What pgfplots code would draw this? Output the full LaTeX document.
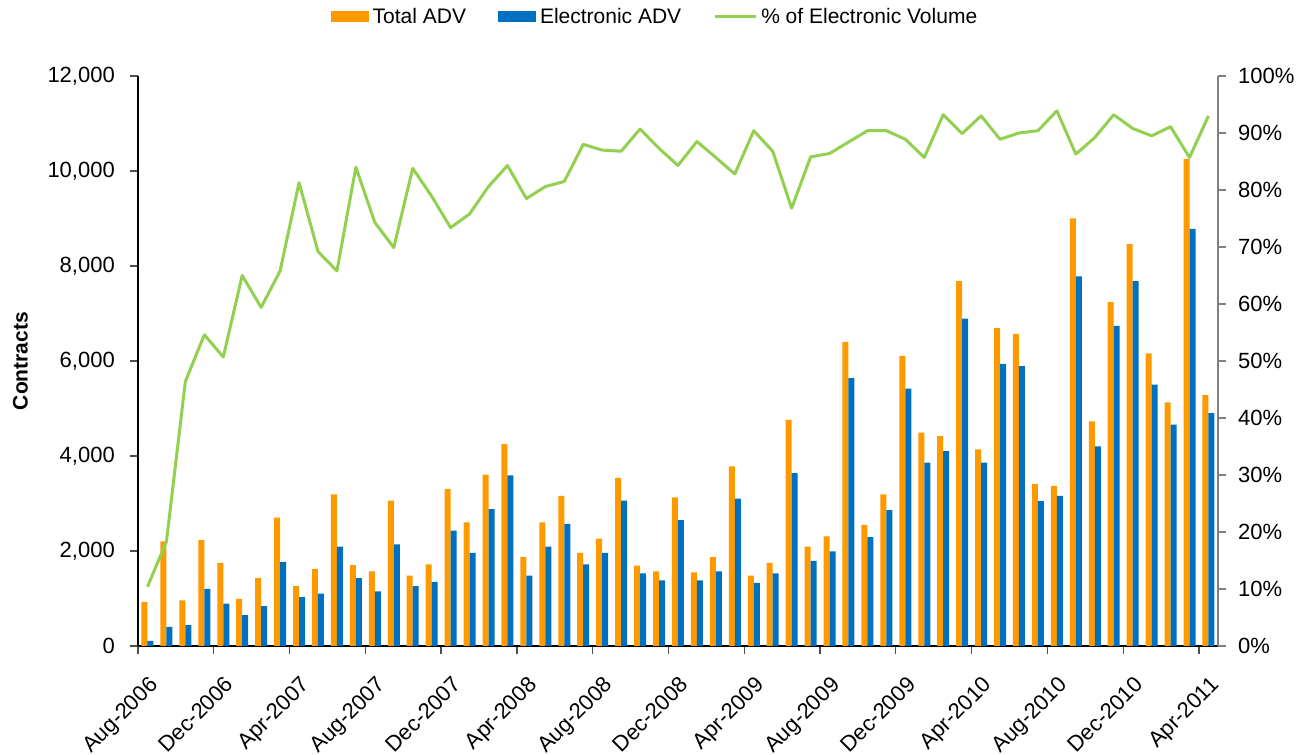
\documentclass[border=0pt]{standalone}
\usepackage{fontspec}
\setmainfont{Liberation Sans}
\usepackage{pgfplots}
\usepackage{pgfplotstable}
\pgfplotsset{compat=1.18}
\definecolor{orangeC}{RGB}{255,153,0}
\definecolor{blueC}{RGB}{0,112,192}
\definecolor{greenC}{RGB}{146,208,80}
\definecolor{axgray}{RGB}{128,128,128}
\pgfplotstableread{
i total elec pct
0 930 110 10.4
1 2200 400 18.3
2 960 440 46.4
3 2230 1200 54.6
4 1750 890 50.7
5 990 650 65.0
6 1430 840 59.4
7 2700 1770 65.8
8 1260 1030 81.3
9 1620 1100 69.2
10 3190 2090 65.8
11 1700 1430 84.0
12 1570 1150 74.3
13 3060 2140 69.9
14 1480 1260 83.8
15 1720 1350 78.9
16 3310 2430 73.4
17 2600 1960 75.8
18 3610 2880 80.6
19 4250 3590 84.3
20 1870 1480 78.5
21 2600 2090 80.6
22 3160 2570 81.5
23 1960 1720 88.0
24 2260 1960 87.0
25 3540 3060 86.8
26 1690 1530 90.7
27 1570 1380 87.3
28 3130 2650 84.3
29 1550 1380 88.5
30 1870 1570 85.7
31 3780 3100 82.8
32 1480 1330 90.4
33 1750 1530 86.8
34 4760 3640 76.8
35 2090 1790 85.8
36 2310 1990 86.4
37 6400 5640 88.4
38 2550 2290 90.4
39 3190 2860 90.4
40 6110 5420 88.9
41 4490 3860 85.7
42 4420 4100 93.2
43 7680 6890 89.9
44 4140 3860 93.0
45 6690 5940 88.9
46 6570 5890 90.0
47 3410 3050 90.4
48 3370 3160 93.9
49 9000 7780 86.3
50 4730 4200 89.2
51 7240 6740 93.2
52 8460 7680 90.8
53 6160 5500 89.5
54 5130 4660 91.1
55 10250 8780 85.7
56 5280 4900 93.0
}\datatable
\newcommand\tf{\fontsize{22bp}{26bp}\selectfont}
\newcommand\xf{\fontsize{22bp}{26bp}\selectfont}
\newcommand\lf{\fontsize{21bp}{25bp}\selectfont}
\begin{document}
\begin{tikzpicture}
\useasboundingbox (0,0) rectangle (1311bp,755bp);
\begin{axis}[
  at={(138bp,109bp)}, anchor=south west,
  scale only axis, width=1080bp, height=570bp,
  xmin=-0.5, xmax=56.5, ymin=0, ymax=12000,
  scaled y ticks=false,
  axis y line*=left, axis x line*=bottom,
  axis line style={black, line width=2bp, -},
  ybar=0pt, bar width=6bp,
  xtick={-0.5,3.5,...,55.5},
  xticklabels={Aug-2006,Dec-2006,Apr-2007,Aug-2007,Dec-2007,Apr-2008,Aug-2008,Dec-2008,Apr-2009,Aug-2009,Dec-2009,Apr-2010,Aug-2010,Dec-2010,Apr-2011},
  xticklabel style={font=\xf, xshift=10bp, yshift=-21bp, rotate=45, anchor=north east, inner sep=0pt},
  ytick={0,2000,...,12000},
  yticklabels={0,{2,000},{4,000},{6,000},{8,000},{10,000},{12,000}},
  yticklabel style={font=\tf, anchor=east, inner sep=0pt, xshift=-15bp},
  tick align=outside, major tick length=8bp,
  tick style={axgray!60!black, line width=1.3bp},
  every axis y label/.style={at={(axis description cs:-0.109,0.5)}, rotate=90, anchor=center},
  ylabel={\fontsize{21bp}{25bp}\selectfont\bfseries Contracts},
  legend style={at={(axis description cs:0.4796,1.1035)}, anchor=center, draw=none, fill=none,
    font=\lf, legend columns=3, inner sep=0pt,
    /tikz/every even column/.append style={column sep=28bp},
    nodes={inner xsep=4bp, inner ysep=0pt}},
  legend cell align=left,
]
\addplot[fill=orangeC, draw=none,
  legend image code/.code={\fill[orangeC] (0bp,-5.5bp) rectangle (38bp,5.5bp);}]
  table[x=i, y=total]{\datatable};
\addlegendentry{Total ADV}
\addplot[fill=blueC, draw=none,
  legend image code/.code={\fill[blueC] (0bp,-5.5bp) rectangle (38bp,5.5bp);}]
  table[x=i, y=elec]{\datatable};
\addlegendentry{Electronic ADV}
\addlegendimage{legend image code/.code={\draw[greenC, line width=3bp] (0bp,0bp) -- (41bp,0bp);}}
\addlegendentry{\% of Electronic Volume}
\end{axis}
\begin{axis}[
  at={(138bp,109bp)}, anchor=south west,
  scale only axis, width=1080bp, height=570bp,
  xmin=-0.5, xmax=56.5, ymin=0, ymax=100,
  axis y line*=right, axis x line=none,
  axis line style={axgray, line width=2bp, -},
  ytick={0,10,...,100},
  yticklabels={0\%,10\%,20\%,30\%,40\%,50\%,60\%,70\%,80\%,90\%,100\%},
  yticklabel style={font=\tf, anchor=west, inner sep=0pt, xshift=12bp},
  tick align=outside, major tick length=8bp,
  tick style={axgray, line width=1.3bp},
]
\addplot[greenC, line width=3bp, line join=round, mark=none] table[x=i, y=pct]{\datatable};
\end{axis}
\end{tikzpicture}
\end{document}
